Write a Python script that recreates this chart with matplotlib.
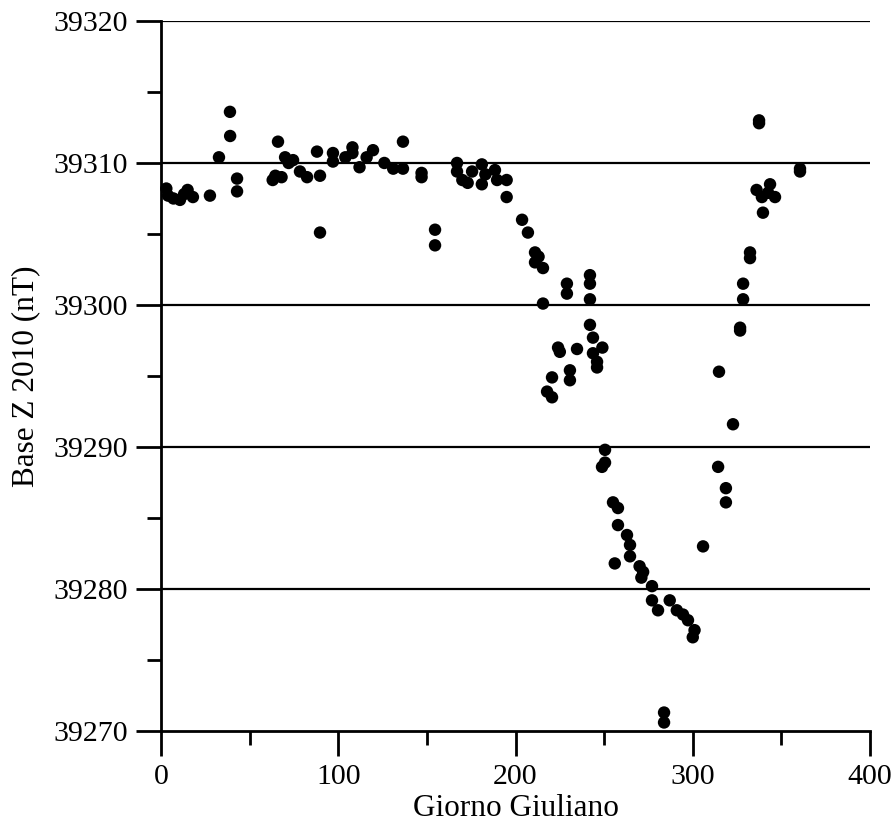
import matplotlib
matplotlib.use("Agg")
import matplotlib.pyplot as plt
from matplotlib.ticker import MultipleLocator

# Giorno giuliano (day of year) and Base Z 2010 (nT)
days = [
    3, 4, 7, 10.7, 13, 15, 18, 27.6, 32.7, 38.9, 39, 42.9, 42.9,
    63, 64.5, 66, 68, 70, 72, 74.5, 78.4, 82.4, 88, 89.7, 89.7,
    97, 97, 104, 108, 108, 112, 116, 119.6, 126, 131, 136.5, 136.5,
    147, 147, 154.6, 154.6, 167, 167, 170, 173, 175.5, 181, 181, 183,
    188.4, 189.6, 195, 195, 203.7, 207, 211, 211, 213, 215.5, 215.5,
    217.8, 220.6, 220.6, 224, 225, 229, 229, 230.7, 230.7, 234.7,
    242, 242, 242, 242, 243.7, 243.7, 246, 246, 249, 248.8, 250.5, 250.5,
    255, 256, 257.8, 257.8, 262.9, 264.6, 264.6, 270, 271, 272, 277, 277,
    280.4, 283.8, 283.8, 287, 291, 294.5, 297.3, 300, 301, 305.8,
    314.3, 314.8, 318.7, 318.7, 322.7, 326.7, 326.7, 328.4, 328.4,
    332.3, 332.3, 336, 337.4, 337.4, 339, 339.6, 342.5, 343.6, 346.4,
    360.5, 360.5,
]
base_z = [
    39308.2, 39307.7, 39307.5, 39307.4, 39307.8, 39308.1, 39307.6, 39307.7,
    39310.4, 39313.6, 39311.9, 39308.9, 39308.0,
    39308.8, 39309.1, 39311.5, 39309.0, 39310.4, 39310.0, 39310.2, 39309.4,
    39309.0, 39310.8, 39309.1, 39305.1,
    39310.7, 39310.1, 39310.4, 39311.1, 39310.7, 39309.7, 39310.4, 39310.9,
    39310.0, 39309.6, 39309.6, 39311.5,
    39309.3, 39309.0, 39305.3, 39304.2, 39310.0, 39309.4, 39308.8, 39308.6,
    39309.4, 39309.9, 39308.5, 39309.2,
    39309.5, 39308.8, 39308.8, 39307.6, 39306.0, 39305.1, 39303.7, 39303.0,
    39303.4, 39302.6, 39300.1,
    39293.9, 39294.9, 39293.5, 39297.0, 39296.7, 39301.5, 39300.8, 39295.4,
    39294.7, 39296.9,
    39302.1, 39301.5, 39300.4, 39298.6, 39297.7, 39296.6, 39296.0, 39295.6,
    39297.0, 39288.6, 39288.9, 39289.8,
    39286.1, 39281.8, 39285.7, 39284.5, 39283.8, 39283.1, 39282.3, 39281.6,
    39280.8, 39281.2, 39280.2, 39279.2,
    39278.5, 39271.3, 39270.6, 39279.2, 39278.5, 39278.2, 39277.8, 39276.6,
    39277.1, 39283.0,
    39288.6, 39295.3, 39287.1, 39286.1, 39291.6, 39298.4, 39298.2, 39300.4,
    39301.5,
    39303.7, 39303.3, 39308.1, 39313.0, 39312.8, 39307.6, 39306.5, 39307.9,
    39308.5, 39307.6,
    39309.6, 39309.4,
]

plt.rcParams["font.family"] = ["Liberation Serif", "DejaVu Serif"]

fig = plt.figure(figsize=(8.96, 8.32), dpi=100)
ax = fig.add_axes([0.1797, 0.1214, 0.7913, 0.8534])

ax.set_xlim(0, 400)
ax.set_ylim(39270, 39320)

for level in range(39280, 39321, 10):
    ax.axhline(level, color="black", linewidth=1.6, zorder=1)

ax.scatter(days, base_z, s=80, color="black", edgecolors="none",
           zorder=3, clip_on=False)

for side in ("top", "right"):
    ax.spines[side].set_visible(False)
for side in ("left", "bottom"):
    ax.spines[side].set_linewidth(2.0)

ax.xaxis.set_major_locator(MultipleLocator(100))
ax.xaxis.set_minor_locator(MultipleLocator(50))
ax.yaxis.set_major_locator(MultipleLocator(10))
ax.yaxis.set_minor_locator(MultipleLocator(5))
ax.tick_params(which="major", direction="out", length=18, width=2.0,
               labelsize=21.5, pad=6)
ax.tick_params(which="minor", direction="out", length=10, width=2.0)
ax.ticklabel_format(axis="y", useOffset=False)

ax.set_xlabel("Giorno Giuliano", fontsize=22.5, labelpad=3)
ax.set_ylabel("Base Z 2010 (nT)", fontsize=22.5, labelpad=9)

fig.savefig("out.png", dpi=100, facecolor="white")
